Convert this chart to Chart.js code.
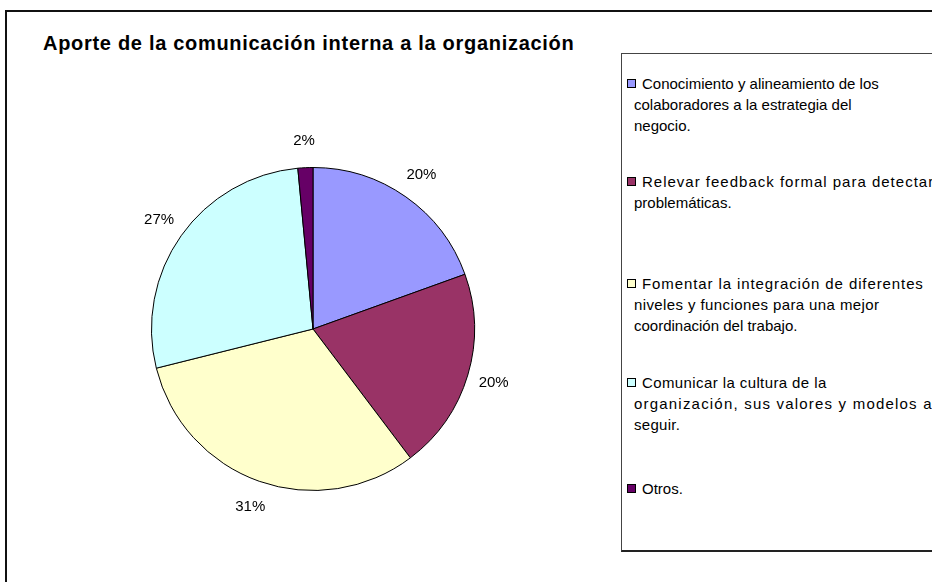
<!DOCTYPE html>
<html>
<head>
<meta charset="utf-8">
<script src="https://cdn.jsdelivr.net/npm/chart.js@4.4.0/dist/chart.umd.min.js"></script>
<style>
  body { margin: 0; background: #fff; font-family: "Liberation Sans", Arial, sans-serif; }
  #wrap { position: relative; width: 932px; height: 582px; overflow: hidden; }
  #frame { position: absolute; left: 5px; top: 10px; width: 1000px; height: 700px;
           border-left: 2px solid #111; border-top: 2px solid #111; }
  #title { position: absolute; left: 43px; top: 32px; font-weight: bold; font-size: 20px;
           letter-spacing: 0.7px; line-height: 22px; color: #000; white-space: nowrap; }
  #legend { position: absolute; left: 621px; top: 53px; width: 400px; height: 496px;
            border: 1px solid #444; border-bottom: 2px solid #222; background: #fff; }
  .item { position: absolute; left: 0; font-size: 15px; line-height: 21px; color: #000; white-space: nowrap; }
  .mark { position: absolute; left: 5px; top: 6px; width: 7px; height: 7px; border: 1px solid #000; }
  .line { padding-left: 12px; }
  .line.first { padding-left: 20px; }
  canvas { position: absolute; left: 0; top: 0; }
</style>
</head>
<body>
<div id="wrap">
  <div id="frame"></div>
  <div id="title">Aporte de la comunicación interna a la organización</div>
  <canvas id="chart" width="932" height="582"></canvas>
  <div id="legend"></div>
</div>
<script>
// legend text, one array of lines per category
const categories = [
  ['Conocimiento y alineamiento de los', 'colaboradores a la estrategia del', 'negocio.'],
  ['Relevar feedback formal para detectar', 'problemáticas.'],
  ['Fomentar la integración de diferentes', 'niveles y funciones para una mejor', 'coordinación del trabajo.'],
  ['Comunicar la cultura de la', 'organización, sus valores y modelos a', 'seguir.'],
  ['Otros.']
];
const shares = [19.5, 20.2, 31.4, 27.4, 1.5];
const pctLabels = ['20%', '20%', '31%', '27%', '2%'];
const colors = ['#9999FF', '#993366', '#FFFFCC', '#CCFFFF', '#660066'];

// legend layout: entry tops inside the box, and per-line letter spacing
const legendTops = [19, 117, 219, 318, 424];
const lineSpacing = [[0, 0, 0], [1.0, 0], [0.9, 0.4, 0], [0.4, 1.2, 0.3], [0]];

const legendBox = document.getElementById('legend');
categories.forEach((lines, i) => {
  const item = document.createElement('div');
  item.className = 'item';
  item.style.top = legendTops[i] + 'px';
  const mark = document.createElement('div');
  mark.className = 'mark';
  mark.style.background = colors[i];
  item.appendChild(mark);
  lines.forEach((txt, j) => {
    const d = document.createElement('div');
    d.className = j === 0 ? 'line first' : 'line';
    d.style.letterSpacing = lineSpacing[i][j] + 'px';
    d.textContent = txt;
    item.appendChild(d);
  });
  legendBox.appendChild(item);
});

const outsideLabels = {
  id: 'outsideLabels',
  afterDatasetsDraw(chart) {
    const ctx = chart.ctx;
    const arcs = chart.getDatasetMeta(0).data;
    ctx.save();
    ctx.font = '15px "Liberation Sans", Arial, sans-serif';
    ctx.fillStyle = '#000';
    ctx.textAlign = 'center';
    ctx.textBaseline = 'middle';
    arcs.forEach((arc, i) => {
      const p = arc.getProps(['x', 'y', 'startAngle', 'endAngle', 'outerRadius'], true);
      const mid = (p.startAngle + p.endAngle) / 2;
      const r = p.outerRadius + 27;
      ctx.fillText(pctLabels[i], p.x + Math.cos(mid) * r, p.y + Math.sin(mid) * r);
    });
    ctx.restore();
  }
};

new Chart(document.getElementById('chart'), {
  type: 'pie',
  data: {
    labels: categories,
    datasets: [{
      data: shares,
      backgroundColor: colors,
      borderColor: '#000',
      borderWidth: 1
    }]
  },
  options: {
    responsive: false,
    animation: false,
    layout: { padding: { left: 151, right: 457, top: 167, bottom: 91 } },
    plugins: {
      legend: { display: false },
      tooltip: { enabled: false },
      title: { display: false }
    }
  },
  plugins: [outsideLabels]
});
</script>
</body>
</html>
